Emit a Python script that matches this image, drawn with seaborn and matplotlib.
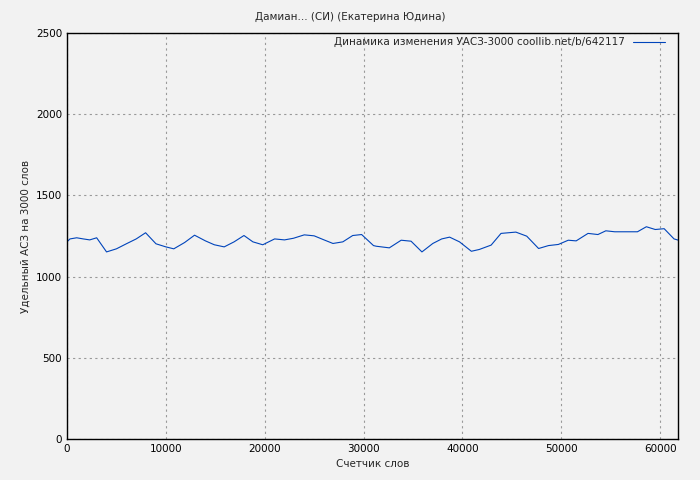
import matplotlib
matplotlib.use("Agg")
import matplotlib.pyplot as plt
import seaborn as sns
import pandas as pd

# word counter vs specific ASW per 3000 words
words = [0, 300, 980, 1650, 2300, 3000, 4000, 5000, 6000, 7000, 7950, 9000,
         10000, 10800, 11900, 12900, 14000, 14900, 15900, 16900, 17900, 18800,
         19800, 21000, 22000, 22900, 24000, 25000, 26000, 26900, 27900, 28900,
         29800, 31000, 31280, 32600, 33800, 34800, 35900, 37000, 37900, 38700,
         39700, 40900, 41700, 42900, 43900, 45400, 46500, 47700, 48700, 49700,
         50700, 51500, 52700, 53700, 54500, 55400, 57700, 58600, 59500, 60400,
         61400, 61800]
asw = [1214, 1232, 1239, 1232, 1226, 1239, 1152, 1171, 1202, 1232, 1270, 1202,
       1183, 1171, 1210, 1255, 1220, 1196, 1183, 1214, 1253, 1214,
       1196, 1232, 1226, 1236, 1257, 1251, 1226, 1204, 1214, 1253,
       1259, 1191, 1187, 1177, 1224, 1218, 1152, 1204, 1232, 1243,
       1214, 1156, 1167, 1194, 1266, 1274, 1249, 1173, 1191, 1198,
       1224, 1220, 1266, 1259, 1282, 1276, 1276, 1307, 1290, 1295,
       1232, 1225]

df = pd.DataFrame({"words": words, "asw": asw})

sns.set_style("white")
plt.rcParams["font.family"] = ["DejaVu Sans"]

fig = plt.figure(figsize=(7, 4.8), dpi=100, facecolor="#f2f2f2")
ax = fig.add_axes([67 / 700, 41 / 480, 611 / 700, 406 / 480])
ax.set_facecolor("#f2f2f2")

sns.lineplot(data=df, x="words", y="asw", ax=ax, color="#0044bb", linewidth=0.8,
             label="Динамика изменения УАСЗ-3000 coollib.net/b/642117")

ax.set_xlim(0, 61800)
ax.set_ylim(0, 2500)
ax.set_xticks(range(0, 61000, 10000))
ax.set_yticks(range(0, 2501, 500))
ax.grid(True, color="#999999", linestyle=(0, (2, 3)), linewidth=0.8)
for s in ax.spines.values():
    s.set_color("black")
    s.set_linewidth(1)
ax.tick_params(labelsize=7.5, length=4, direction="in", colors="black")
ax.set_xlabel("Счетчик слов", fontsize=7.5)
ax.set_ylabel("Удельный АСЗ на 3000 слов", fontsize=7.5)
fig.suptitle("Дамиан... (СИ) (Екатерина Юдина)", fontsize=7.5, y=0.975)

leg = ax.legend(loc="upper right", frameon=False, fontsize=7.5, handlelength=3,
                markerfirst=False, borderaxespad=0.0,
                bbox_to_anchor=(0.985, 1.0))

fig.savefig("out.png", dpi=100, facecolor=fig.get_facecolor())
